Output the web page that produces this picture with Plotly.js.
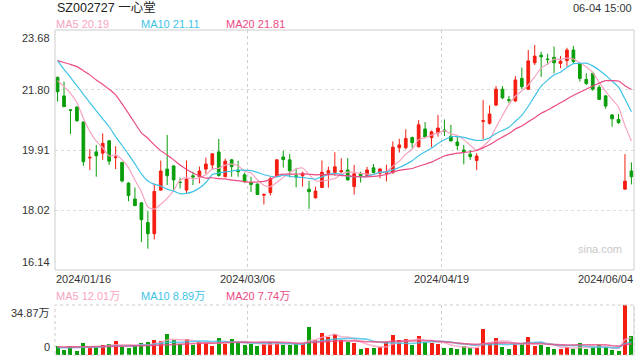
<!DOCTYPE html>
<html><head><meta charset="utf-8">
<script src="https://cdn.plot.ly/plotly-3.0.1.min.js"></script>
<style>html,body{margin:0;padding:0;background:#fff}#c{width:640px;height:360px}</style>
</head><body><div id="c"></div>
<script>
const stockTitle = 'SZ002727 一心堂';
const timeLabel = '06-04 15:00';
const dateLabels = ['2024/01/16','2024/03/06','2024/04/19','2024/06/04'];
const dateIdx = [0, 30, 60, 89];
const priceTicks = [23.68, 21.80, 19.91, 18.02, 16.14];

const open = [22.19,21.61,21.17,21.26,20.79,19.66,19.85,19.81,20.20,19.67,
19.52,18.87,18.37,18.25,17.63,17.28,18.65,19.31,19.41,18.90,
18.65,19.10,19.07,19.31,19.44,19.85,19.07,19.60,19.28,19.13,
18.88,18.84,18.49,18.57,19.09,19.69,19.60,19.10,19.10,18.68,
18.41,18.73,19.18,19.20,19.22,19.28,18.76,19.16,19.11,19.35,
19.18,19.18,19.21,19.98,19.98,20.30,20.01,20.57,20.30,20.45,
20.54,20.34,20.16,19.91,19.78,19.58,20.81,20.75,21.32,21.82,
21.49,21.45,22.16,21.82,22.65,22.89,22.77,22.82,22.63,22.72,
23.05,22.63,22.13,22.32,21.88,21.61,21.01,20.87,18.68,19.25];
const high = [22.22,22.06,21.18,21.28,20.80,19.94,20.07,20.43,20.22,20.03,
19.54,18.90,18.73,18.26,17.99,18.86,19.58,20.38,19.42,19.04,
19.58,19.23,19.39,19.67,19.81,20.26,19.64,19.63,19.57,19.20,
19.07,18.86,18.55,19.07,19.62,19.89,19.78,19.35,19.23,18.94,
18.76,19.58,19.39,19.84,19.65,19.66,19.44,19.23,19.38,19.47,
19.35,19.45,20.18,20.26,20.56,20.33,20.85,20.79,20.52,21.01,
20.87,20.70,20.33,20.07,19.91,19.81,21.48,21.31,21.92,21.92,
21.61,22.23,22.50,23.05,23.21,23.00,22.93,23.16,22.86,23.12,
23.18,22.64,22.32,22.37,21.95,21.64,21.04,21.04,19.78,19.52];
const low = [21.43,21.27,20.41,20.80,19.41,19.28,19.07,19.60,19.44,19.31,
18.89,18.30,18.16,17.02,16.81,17.10,18.63,18.81,18.65,18.70,
18.53,18.81,18.86,19.16,19.30,19.07,19.06,19.07,19.07,18.88,
18.59,18.50,18.20,18.48,19.07,19.36,19.05,18.74,18.76,18.06,
18.38,18.72,18.73,19.10,19.20,18.95,18.51,18.89,19.09,19.18,
19.02,18.92,19.16,19.83,19.93,19.96,19.99,20.28,19.99,20.33,
20.35,20.17,19.91,19.46,19.60,19.28,20.25,20.71,21.29,21.51,
21.38,21.43,21.82,21.80,22.58,22.21,22.58,22.32,22.48,22.53,
22.63,22.06,21.95,21.77,21.48,21.21,20.64,20.73,18.68,18.83];
const close = [21.74,21.27,21.16,20.83,19.54,19.68,19.73,20.12,19.56,19.69,
18.94,18.48,18.16,17.72,17.28,18.61,19.25,19.10,18.97,18.89,
19.00,19.06,19.25,19.47,19.79,19.11,19.56,19.39,19.23,18.92,
18.83,18.51,18.51,19.01,19.60,19.61,19.26,19.07,19.18,18.60,
18.62,19.21,19.26,19.38,19.26,18.97,19.16,19.10,19.28,19.20,
19.31,19.23,20.00,20.07,20.27,20.14,20.70,20.32,20.48,20.60,
20.49,20.20,20.05,19.84,19.70,19.72,20.83,21.04,21.82,21.55,
21.47,22.11,21.90,22.71,22.86,22.84,22.75,22.65,22.70,23.05,
22.69,22.16,22.00,21.82,21.50,21.29,20.89,20.77,18.93,19.07];
// volume in 万
const volume = [6.28,3.49,6.04,2.79,8.37,5.58,5.35,6.97,7.67,9.76,
5.81,5.11,6.51,8.37,9.07,10.46,9.76,14.65,10.46,7.44,
10.93,6.97,8.83,8.14,6.28,11.86,7.67,11.16,9.07,6.97,
7.67,6.28,7.44,8.83,8.83,6.97,6.97,7.67,8.14,19.53,
10.46,15.34,12.79,14.41,10.46,9.30,8.60,4.18,4.88,4.88,
5.81,8.83,13.95,10.46,11.16,6.97,13.25,8.83,8.37,7.67,
5.11,5.11,4.18,6.28,5.11,5.11,18.13,7.44,11.86,5.81,
4.4,7.9,8.0,12.55,6.28,7.3,5.5,4.18,4.18,5.62,
4.18,8.37,4.18,5.11,6.97,5.3,3.49,2.79,34.87,13.6];
// moving-average values before enough in-window data
const ma5Early = [22.09,21.90,21.69,21.40];
const ma10Early = [22.72,22.44,22.19,21.93,21.66,21.40,21.14,20.89,20.64];
const ma20Early = [22.72,22.66,22.60,22.53,22.40,22.27,22.11,21.97,21.82,21.64,21.36,21.06,20.75,20.45,20.28,20.07,19.89,19.75,19.60];
const vma5Early = [5.6,5.4,5.3,5.3];
const vma10Early = [5.1,5.1,5.2,5.2,5.4,5.5,5.6,5.8,6.0];
const vma20Early = [5.6,5.6,5.7,5.7,5.8,5.8,5.9,6.0,6.0,6.1,6.2,6.3,6.4,6.5,6.6,6.8,6.9,7.1,7.3];

function movingAvg(arr, n, early){
  return arr.map((v,i)=>{
    if(i < n-1) return early[i];
    let s=0; for(let k=i-n+1;k<=i;k++) s+=arr[k];
    return s/n;
  });
}
const N = close.length;
const idx = close.map((_,i)=>i);
const ma5 = movingAvg(close,5,ma5Early), ma10 = movingAvg(close,10,ma10Early), ma20 = movingAvg(close,20,ma20Early);
const vma5 = movingAvg(volume,5,vma5Early), vma10 = movingAvg(volume,10,vma10Early), vma20 = movingAvg(volume,20,vma20Early);

const UP='#f41d10', DOWN='#0a9e0a';
const C5='#f7a3c2', C10='#3ec3e6', C20='#ec4b84';
const FONT='"Liberation Sans", Arial, "Noto Sans CJK SC", sans-serif';
const volColors = idx.map(i => close[i] > open[i] ? UP : DOWN);

const xr = [-0.4, N-1+0.4];
const traces = [
  {type:'candlestick', x:idx, open:open, high:high, low:low, close:close, xaxis:'x', yaxis:'y',
   increasing:{line:{color:UP,width:1}, fillcolor:UP}, decreasing:{line:{color:DOWN,width:1}, fillcolor:DOWN},
   whiskerwidth:0, hoverinfo:'skip'},
  {type:'scatter', mode:'lines', x:idx, y:ma5, line:{color:C5,width:1.2,shape:'spline',smoothing:0.5}, yaxis:'y', hoverinfo:'skip'},
  {type:'scatter', mode:'lines', x:idx, y:ma10, line:{color:C10,width:1.2,shape:'spline',smoothing:0.5}, yaxis:'y', hoverinfo:'skip'},
  {type:'scatter', mode:'lines', x:idx, y:ma20, line:{color:C20,width:1.2,shape:'spline',smoothing:0.5}, yaxis:'y', hoverinfo:'skip'},
  {type:'bar', x:idx, y:volume, width:0.62, marker:{color:volColors,line:{width:0}}, yaxis:'y2', hoverinfo:'skip'},
  {type:'scatter', mode:'lines', x:idx, y:vma5, line:{color:C5,width:1.6,shape:'spline',smoothing:0.5}, opacity:0.8, yaxis:'y2', hoverinfo:'skip'},
  {type:'scatter', mode:'lines', x:idx, y:vma10, line:{color:C10,width:1.6,shape:'spline',smoothing:0.5}, opacity:0.8, yaxis:'y2', hoverinfo:'skip'},
  {type:'scatter', mode:'lines', x:idx, y:vma20, line:{color:C20,width:1.6,shape:'spline',smoothing:0.5}, opacity:0.8, yaxis:'y2', hoverinfo:'skip'}
];

const ann = [];
const txt = (o)=>Object.assign({showarrow:false, font:{family:FONT,size:11,color:'#333'}}, o);
ann.push(txt({text:stockTitle, xref:'paper', x:0, xanchor:'left', yref:'paper', y:1, yanchor:'middle', yshift:22, font:{family:FONT,size:12.5,color:'#222'}}));
ann.push(txt({text:timeLabel, xref:'paper', x:1, xanchor:'right', yref:'paper', y:1, yanchor:'middle', yshift:22}));
const last = N-1;
const legP = [['MA5 ', ma5[last].toFixed(2), C5], ['MA10 ', ma10[last].toFixed(2), C10], ['MA20 ', ma20[last].toFixed(2), C20]];
const legV = [['MA5 ', vma5[last].toFixed(2)+'万', C5], ['MA10 ', vma10[last].toFixed(2)+'万', C10], ['MA20 ', vma20[last].toFixed(2)+'万', C20]];
legP.forEach((l,k)=>ann.push(txt({text:l[0]+l[1], xref:'paper', x:0, xanchor:'left', xshift:-1+85*k, yref:'y domain', y:1, yanchor:'middle', yshift:6.5, font:{family:FONT,size:11,color:l[2]}})));
legV.forEach((l,k)=>ann.push(txt({text:l[0]+l[1], xref:'paper', x:0, xanchor:'left', xshift:-1+85*k, yref:'y2 domain', y:1, yanchor:'middle', yshift:9, font:{family:FONT,size:11,color:l[2]}})));
priceTicks.forEach((v,k)=>{
  const anc = k===0 ? 'top' : (k===priceTicks.length-1 ? 'bottom' : 'middle');
  ann.push(txt({text:v.toFixed(2), xref:'paper', x:0, xanchor:'right', xshift:-3, yref:'y', y:v, yanchor:anc}));
});
const volMax = Math.max(...volume);
ann.push(txt({text:volMax.toFixed(2)+'万', xref:'paper', x:0, xanchor:'right', xshift:-3, yref:'y2', y:volMax, yanchor:'top'}));
ann.push(txt({text:'0', xref:'paper', x:0, xanchor:'right', xshift:-3, yref:'y2', y:0, yanchor:'bottom'}));
dateLabels.forEach((d,k)=>{
  let o = {text:d, yref:'y domain', y:0, yanchor:'top', yshift:-1};
  if(k===0){ o.xref='x'; o.x=xr[0]; o.xanchor='left'; o.xshift=-1; }
  else if(k===dateLabels.length-1){ o.xref='x'; o.x=xr[1]; o.xanchor='right'; o.xshift=1; }
  else { o.xref='x'; o.x=dateIdx[k]-0.5; o.xanchor='center'; }
  ann.push(txt(o));
});
ann.push(txt({text:'sina.com', xref:'paper', x:1, xanchor:'right', xshift:-10, yref:'y domain', y:0, yanchor:'middle', yshift:21, font:{family:FONT,size:11,color:'#c8c8c8'}}));

const gridX = dateIdx.slice(1, -1).map(v=>v-0.5);
const layout = {
  width:640, height:360, margin:{l:55, r:6, t:30, b:5}, paper_bgcolor:'#fff', plot_bgcolor:'#fff',
  showlegend:false, boxgap:0.4, bargap:0,
  xaxis:{range:xr, anchor:'y2', tickvals:gridX, showticklabels:false, ticks:'', showgrid:true, gridcolor:'#cfcfcf', griddash:'dot', zeroline:false, showline:false, rangeslider:{visible:false}, fixedrange:true},
  yaxis:{domain:[85/325,1], range:[priceTicks[4], priceTicks[0]], tickvals:priceTicks.slice(1,-1), showticklabels:false, ticks:'', gridcolor:'#dcdcdc', griddash:'dot', zeroline:false, showline:false},
  yaxis2:{domain:[0,50/325], range:[0, volMax], showgrid:false, showticklabels:false, ticks:'', zeroline:false, showline:false},
  annotations:ann,
  shapes:[
    {type:'rect', xref:'paper', yref:'y domain', x0:0, x1:1, y0:0, y1:1, line:{color:'#cccccc', width:1}},
    {type:'rect', xref:'paper', yref:'y2 domain', x0:0, x1:1, y0:0, y1:1, line:{color:'#cccccc', width:1, dash:'dot'}},
    {type:'line', xref:'paper', yref:'y2 domain', x0:1, x1:1, y0:0, y1:1, line:{color:'#d4d4d4', width:1}}
  ]
};
Plotly.newPlot('c', traces, layout, {displayModeBar:false, staticPlot:true});
</script></body></html>
